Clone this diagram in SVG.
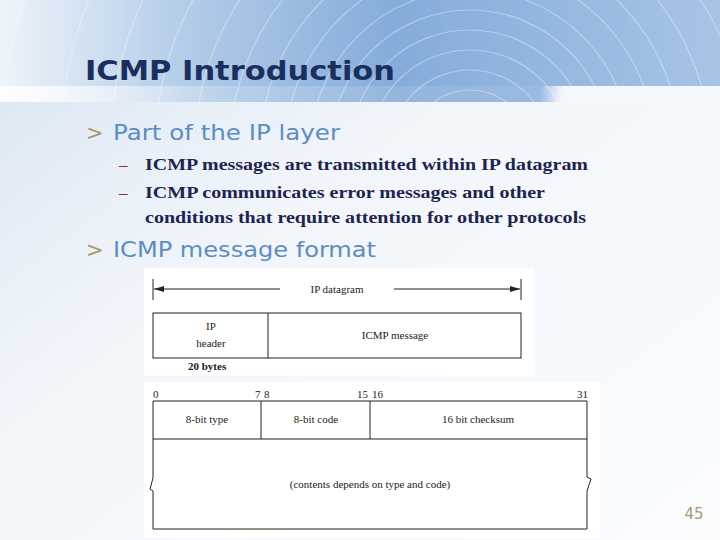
<svg xmlns="http://www.w3.org/2000/svg" width="720" height="540" viewBox="0 0 720 540">
<defs>
<linearGradient id="hdr" x1="0" y1="0" x2="1" y2="0">
<stop offset="0" stop-color="#eef4fa"/>
<stop offset="0.25" stop-color="#b4cde9"/>
<stop offset="0.55" stop-color="#85acda"/>
<stop offset="1" stop-color="#a6c4e6"/>
</linearGradient>
<linearGradient id="hfade" x1="0" y1="0" x2="1" y2="0">
<stop offset="0" stop-color="#ffffff" stop-opacity="0.9"/>
<stop offset="0.3" stop-color="#ffffff" stop-opacity="0.2"/>
<stop offset="0.75" stop-color="#ffffff" stop-opacity="0.05"/>
<stop offset="0.78" stop-color="#ffffff" stop-opacity="0.9"/>
<stop offset="1" stop-color="#ffffff" stop-opacity="0.9"/>
</linearGradient>
<linearGradient id="body" x1="0" y1="0" x2="1" y2="1">
<stop offset="0" stop-color="#d7e4f2"/>
<stop offset="0.4" stop-color="#f2f6fb"/>
<stop offset="1" stop-color="#fafcfe"/>
</linearGradient>
<clipPath id="hc"><rect x="0" y="0" width="720" height="102"/></clipPath>
<marker id="ah" viewBox="0 0 10 6" refX="10" refY="3" markerWidth="10" markerHeight="6" orient="auto-start-reverse" markerUnits="userSpaceOnUse">
<path d="M0,0 L10,3 L0,6 Z" fill="#222"/>
</marker>
<style>
.t{font-family:"DejaVu Sans",Verdana,sans-serif}
.b1{font-family:"DejaVu Sans",Verdana,sans-serif;font-size:21px;fill:#5b8dc4}
.gt{font-family:"DejaVu Sans",Verdana,sans-serif;font-size:21px;fill:#a89a6a}
.sb{font-family:"Liberation Serif","Times New Roman",serif;font-size:17px;font-weight:bold;fill:#1c2450}
.dash{font-family:"Liberation Serif","Times New Roman",serif;font-size:17px;fill:#8a3030}
.f{font-family:"Liberation Serif","Times New Roman",serif;font-size:11px;fill:#222}
.ln{stroke:#222;stroke-width:1;fill:none}
.arc{fill:none;stroke:#ffffff;stroke-opacity:0.35;stroke-width:1.2}
</style>
</defs>
<rect x="0" y="0" width="720" height="540" fill="url(#body)"/>
<g id="header">
<rect x="0" y="0" width="720" height="102" fill="url(#hdr)"/>
<g clip-path="url(#hc)">
<circle class="arc" cx="470" cy="150" r="60"/>
<circle class="arc" cx="470" cy="150" r="80"/>
<circle class="arc" cx="470" cy="150" r="100"/>
<circle class="arc" cx="470" cy="150" r="120"/>
<circle class="arc" cx="470" cy="150" r="140"/>
<circle class="arc" cx="470" cy="150" r="160"/>
<circle class="arc" cx="470" cy="150" r="185"/>
<circle class="arc" cx="470" cy="150" r="210"/>
<circle class="arc" cx="470" cy="150" r="240"/>
<circle class="arc" cx="470" cy="150" r="275"/>
<circle class="arc" cx="470" cy="150" r="315"/>
<circle class="arc" cx="470" cy="150" r="360"/>
<circle class="arc" cx="470" cy="150" r="410"/>
<circle class="arc" cx="470" cy="150" r="470"/>
</g>
<rect x="0" y="86" width="720" height="16" fill="url(#hfade)"/>
<text class="t" x="85" y="80" font-size="26" font-weight="bold" fill="#1a2f5e" textLength="310" lengthAdjust="spacingAndGlyphs">ICMP Introduction</text>
</g>
<g id="bullets">
<text class="gt" x="86" y="140">&gt;</text>
<text class="b1" x="113" y="140" textLength="227" lengthAdjust="spacingAndGlyphs">Part of the IP layer</text>
<text class="dash" x="119" y="170">–</text>
<text class="sb" x="145" y="170" textLength="443" lengthAdjust="spacingAndGlyphs">ICMP messages are transmitted within IP datagram</text>
<text class="dash" x="119" y="198">–</text>
<text class="sb" x="145" y="198" textLength="400" lengthAdjust="spacingAndGlyphs">ICMP communicates error messages and other</text>
<text class="sb" x="145" y="223" textLength="441" lengthAdjust="spacingAndGlyphs">conditions that require attention for other protocols</text>
<text class="gt" x="86" y="257">&gt;</text>
<text class="b1" x="113" y="257" textLength="263" lengthAdjust="spacingAndGlyphs">ICMP message format</text>
</g>
<g id="fig1">
<rect x="144" y="268" width="390" height="108" fill="#ffffff"/>
<line class="ln" x1="153" y1="279" x2="153" y2="300"/>
<line class="ln" x1="521" y1="279" x2="521" y2="300"/>
<line class="ln" x1="154" y1="289" x2="280" y2="289" marker-start="url(#ah)"/>
<line class="ln" x1="394" y1="289" x2="520" y2="289" marker-end="url(#ah)"/>
<text class="f" x="337" y="293" text-anchor="middle" font-size="12">IP datagram</text>
<rect class="ln" x="153" y="313" width="368" height="45"/>
<line class="ln" x1="268" y1="313" x2="268" y2="358"/>
<text class="f" x="211" y="330" text-anchor="middle" font-size="12">IP</text>
<text class="f" x="211" y="347" text-anchor="middle" font-size="12">header</text>
<text class="f" x="395" y="339" text-anchor="middle" font-size="12">ICMP message</text>
<text class="f" x="188" y="370" font-size="12" font-weight="bold">20 bytes</text>
</g>
<g id="fig2">
<rect x="144" y="382" width="456" height="156" fill="#ffffff"/>
<text class="f" x="153" y="398">0</text>
<text class="f" x="255" y="398">7</text>
<text class="f" x="264" y="398">8</text>
<text class="f" x="357" y="398">15</text>
<text class="f" x="372" y="398">16</text>
<text class="f" x="577" y="398">31</text>
<path class="ln" d="M153,401 H587 V477 L591,479 L587,491 V529 H153 V491 L150,489 L153,478 V401 Z"/>
<line class="ln" x1="153" y1="439" x2="587" y2="439"/>
<line class="ln" x1="261" y1="401" x2="261" y2="439"/>
<line class="ln" x1="370" y1="401" x2="370" y2="439"/>
<text class="f" x="207" y="423" text-anchor="middle">8-bit type</text>
<text class="f" x="316" y="423" text-anchor="middle">8-bit code</text>
<text class="f" x="478" y="423" text-anchor="middle">16 bit checksum</text>
<text class="f" x="370" y="488" text-anchor="middle">(contents depends on type and code)</text>
</g>
<text class="t" x="694" y="519" font-size="15" fill="#a89a6a" text-anchor="middle">45</text>
</svg>
